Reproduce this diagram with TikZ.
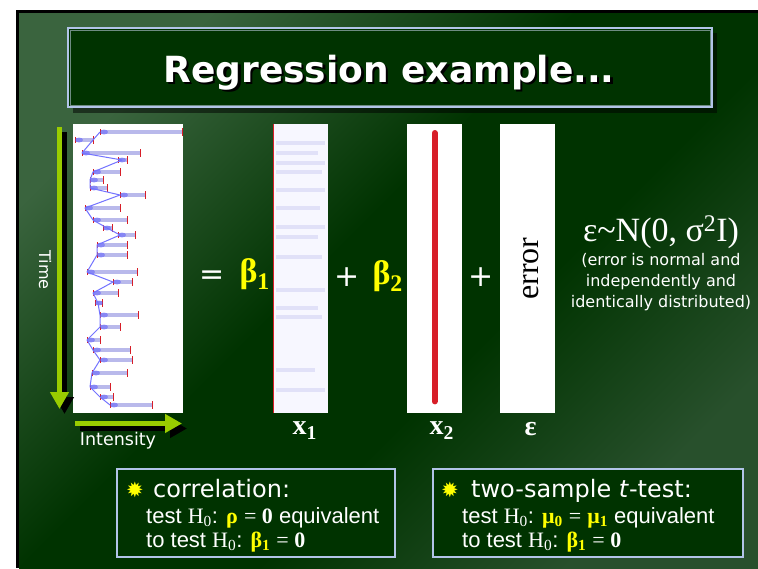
\documentclass[tikz,border=0pt]{standalone}
\usepackage{fontspec}
\setmainfont{Liberation Serif}
\setsansfont{DejaVu Sans}
\newfontfamily\arialfont{Liberation Sans}
\usetikzlibrary{positioning,calc,arrows.meta,shadings}

\definecolor{slidedark}{RGB}{0,51,0}
\definecolor{slidelight}{RGB}{58,100,62}
\definecolor{slidemid}{RGB}{40,80,44}
\definecolor{frameblue}{RGB}{178,196,232}
\definecolor{framegray}{RGB}{110,140,130}
\definecolor{axisgreen}{RGB}{153,204,0}
\definecolor{hiyellow}{RGB}{255,255,0}
\definecolor{barblue}{RGB}{185,185,235}
\definecolor{tickred}{RGB}{215,30,40}

\pgfdeclareverticalshading{slidebg}{100bp}{color(0bp)=(slidemid); color(25bp)=(slidemid);
  color(42bp)=(slidedark); color(55bp)=(slidedark); color(75bp)=(slidelight); color(100bp)=(slidelight)}

\newcommand{\nullhyp}{{\rmfamily H\textsubscript{0}}}
\newcommand{\hl}[1]{{\color{hiyellow}\rmfamily\bfseries #1}}
\newcommand{\eqzero}{{\rmfamily = \textbf{0}}}
\newcommand{\dropshadow}[1]{\rlap{\hspace{2.5pt}\raisebox{-2.5pt}{\color{black}#1}}#1}

\begin{document}
\begin{tikzpicture}[
    x=1pt, y=-1pt,
    panel/.style={fill=white, minimum width=55pt, minimum height=289pt, inner sep=0pt, anchor=north west},
    titlebox/.style={fill=slidedark, draw=frameblue, line width=2pt, minimum width=644pt, minimum height=79pt, inner sep=0pt},
    titletext/.style={text=white, anchor=base, font=\sffamily\bfseries\fontsize{36}{36}\selectfont},
    infobox/.style={fill=slidedark, draw=frameblue, line width=1.3pt, minimum height=88pt, inner sep=0pt},
    opsign/.style={text=white, anchor=base, font=\sffamily\fontsize{30}{30}\selectfont},
    coef/.style={text=hiyellow, anchor=base west, font=\bfseries\fontsize{34}{34}\selectfont},
    veclabel/.style={text=white, font=\rmfamily\bfseries\fontsize{28}{28}\selectfont},
    axislabel/.style={text=white, font=\sffamily\fontsize{16}{16}\selectfont},
    greenaxis/.style={axisgreen, line width=5.5pt, -{Triangle[length=17pt,width=18pt]}},
    axisshadow/.style={greenaxis, black},
    ibar/.style={barblue, line width=4.5pt},
    ibarend/.style={tickred, line width=1pt},
    fband/.style={barblue, line width=4pt, opacity=0.35},
    heading/.style={text=white, anchor=base west, inner sep=0pt, font=\sffamily\fontsize{24}{24}\selectfont},
    testline/.style={text=white, anchor=base west, inner sep=0pt, font=\arialfont\fontsize{22}{22}\selectfont},
    starmark/.style={text=hiyellow, font=\sffamily\fontsize{21}{21}\selectfont},
    note/.style={text=white, align=center, font=\sffamily\fontsize{16}{21}\selectfont},
]

\useasboundingbox (0,0) rectangle (758,568);
\fill[black] (16,10) rectangle (758,568);
\shade[shading=slidebg, shading angle=45] (19,13) rectangle (758,568);

% title
\fill[black, opacity=0.5] (73,33) rectangle (717,113);
\node[titlebox] (titlebox) at (390,67.5) {};
\draw[framegray, line width=0.8pt] ([shift={(3,3)}]titlebox.north west) rectangle ([shift={(-3,-3)}]titlebox.south east);
\node[titletext] (title) at (389,82) {\dropshadow{Regression example...}};

% data, axes
\node[panel, minimum width=110pt] (img) at (73,124) {};
\foreach \y/\xa/\xb in {132/100/182, 140/75/93, 153/82/140, 160/118/127, 172/93/120, 180/90/103,
    188/90/107, 195/120/145, 208/85/120, 220/93/127, 228/103/112, 235/118/135, 245/97/127,
    255/97/127, 272/87/137, 282/113/132, 293/93/118, 303/95/102, 315/100/138, 327/100/120,
    340/87/100, 350/93/130, 360/100/132, 373/92/127, 387/90/110, 397/100/113, 405/110/152}{
  \draw[ibar] (\xa,\y) -- (\xb,\y);
  \draw[ibarend] (\xb,\y-4) -- (\xb,\y+4);
  \draw[ibarend] (\xa,\y-3) -- (\xa,\y+3);
  \fill[blue!70, opacity=0.45] (\xa+4,\y) ellipse (4 and 2.5);
}
\draw[blue!55, line width=1pt, line join=round] (100,132) -- (93,140) -- (82,153) -- (122,160) -- (93,172)
  -- (90,180) -- (90,188) -- (120,195) -- (85,208) -- (93,220) -- (107,228) -- (120,235) -- (97,245)
  -- (97,255) -- (87,272) -- (113,282) -- (93,293) -- (98,303) -- (100,315) -- (100,327) -- (87,340)
  -- (93,350) -- (100,360) -- (92,373) -- (90,387) -- (100,397) -- (110,405);

\coordinate (tstart) at (59.5,127);
\coordinate (tend) at (59.5,409);
\draw[axisshadow] ([shift={(5,5)}]tstart) -- ([shift={(5,5)}]tend);
\draw[greenaxis] (tstart) -- (tend);
\node[axislabel, rotate=-90] (time) at (45,270) {Time};

\coordinate (istart) at (75,423.5);
\coordinate (iend) at (182,423.5);
\draw[axisshadow] ([shift={(5,5)}]istart) -- ([shift={(5,5)}]iend);
\draw[greenaxis] (istart) -- (iend);
\node[axislabel, font=\sffamily\fontsize{17.5}{17.5}\selectfont] (intensity) at (118,441) {Intensity};

% regressors
\node[opsign] (eq) at (212,284) {=};
\node[coef] (b1) at (236,282) {β\textsubscript{1}};

\node[panel, fill=blue!3] (x1) at (273,124) {};
\foreach \y/\xb in {143/325, 153/318, 163/325, 172/322, 190/325, 208/320, 227/325, 237/318,
    257/322, 290/325, 308/318, 317/322, 370/315, 390/325}{
  \draw[fband] (276,\y) -- (\xb,\y);
}
\draw[tickred, line width=0.7pt] (x1.north west) -- (x1.south west);

\node[opsign] (plus1) at (347,286) {+};
\node[coef] (b2) at (369,284) {β\textsubscript{2}};

\node[panel] (x2) at (407,124) {};
\draw[tickred, line width=6pt, line cap=round] ([yshift=-9]x2.north) -- ([yshift=12]x2.south);

\node[opsign] (plus2) at (481,286) {+};

\node[panel] (err) at (500,124) {};
\node[rotate=90, font=\fontsize{32}{32}\selectfont] (errtext) at ([xshift=3]err.center) {error};

\node[veclabel, below=5pt of x1, xshift=4pt] (x1lab) {x\textsubscript{1}};
\node[veclabel, below=5pt of x2, xshift=7pt] (x2lab) {x\textsubscript{2}};
\node[veclabel, below=5pt of err, xshift=3pt] (elab) {ε};

% error model
\node[text=white, anchor=base, font=\fontsize{34}{34}\selectfont] (dist) at (661,241) {ε\textasciitilde N(0, σ\textsuperscript{2}I)};
\node[note, below=-2pt of dist] (distnote) {(error is normal and\\independently and\\identically distributed)};

% special cases
\node[infobox, minimum width=278pt] (corr) at (256,513) {};
\node[starmark] (corrstar) at (135,490) {✹};
\node[heading] (corrhead) at (153,497) {correlation:};
\node[testline] (corrl1) at (146,523) {test \nullhyp: \hl{ρ} \eqzero\ equivalent};
\node[testline] (corrl2) at (146,547) {to test \nullhyp: \hl{β\textsubscript{1}} \eqzero};

\node[infobox, minimum width=310pt] (ttest) at (588,513) {};
\node[starmark] (tstar) at (450,490) {✹};
\node[heading] (thead) at (471,497) {two-sample \textit{t}-test:};
\node[testline] (tl1) at (462,523) {test \nullhyp: \hl{μ\textsubscript{0}} {\rmfamily =} \hl{μ\textsubscript{1}} equivalent};
\node[testline] (tl2) at (462,547) {to test \nullhyp: \hl{β\textsubscript{1}} \eqzero};

\end{tikzpicture}
\end{document}
